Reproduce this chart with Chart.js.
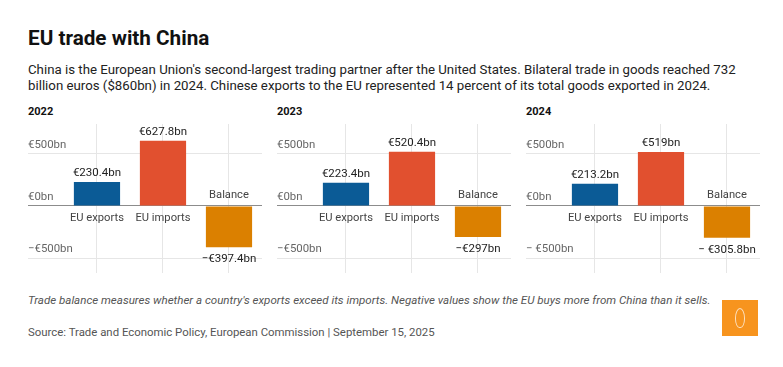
<!DOCTYPE html>
<html>
<head>
<meta charset="utf-8">
<script src="https://cdn.jsdelivr.net/npm/chart.js@4.4.1/dist/chart.umd.min.js"></script>
<style>
  html, body { margin: 0; padding: 0; background: #fff; }
  body { width: 783px; height: 367px; position: relative; overflow: hidden; font-family: Roboto, "Noto Sans", sans-serif; }
  #title { position: absolute; left: 28px; top: 24px; font-size: 20.7px; font-weight: 700; color: #111; line-height: 28px; }
  #subtitle { position: absolute; left: 28px; top: 61.5px; font-size: 13.25px; color: #222; line-height: 16.7px; }
  .year { position: absolute; top: 105px; font-size: 11px; font-weight: 700; color: #111; line-height: 14px; }
  .panel { position: absolute; top: 124px; }
  #note { position: absolute; left: 28px; top: 292px; font-size: 11.55px; font-style: italic; color: #555; line-height: 16px; }
  #source { position: absolute; left: 28px; top: 324px; font-size: 11.4px; color: #555; line-height: 16px; }
  #logo { position: absolute; left: 722px; top: 300px; width: 36px; height: 36px; background: #f7941e; }
  #logo span { position: absolute; left: 13px; top: 8px; width: 10px; height: 20px; border: 1px solid rgba(255,255,255,0.7); border-radius: 50% 50% 45% 45%; box-sizing: border-box; }
</style>
</head>
<body>
<div id="title">EU trade with China</div>
<div id="subtitle">China is the European Union's second-largest trading partner after the United States. Bilateral trade in goods reached 732<br>billion euros ($860bn) in 2024. Chinese exports to the EU represented 14 percent of its total goods exported in 2024.</div>
<div class="year" style="left:28px">2022</div>
<div class="year" style="left:277px">2023</div>
<div class="year" style="left:526px">2024</div>
<canvas class="panel" id="c0" width="234" height="149" style="left:28px"></canvas>
<canvas class="panel" id="c1" width="234" height="149" style="left:277px"></canvas>
<canvas class="panel" id="c2" width="234" height="149" style="left:526px"></canvas>
<div id="note">Trade balance measures whether a country's exports exceed its imports. Negative values show the EU buys more from China than it sells.</div>
<div id="source">Source: Trade and Economic Policy, European Commission | September 15, 2025</div>
<div id="logo"><span></span></div>
<script>
const categories = ['EU exports', 'EU imports', 'Balance'];
const years = ['2022', '2023', '2024'];
const values2022 = [230.4, 627.8, -397.4];
const values2023 = [223.4, 520.4, -297];
const values2024 = [213.2, 519, -305.8];
const valueLabels2022 = ['€230.4bn', '€627.8bn', '−€397.4bn'];
const valueLabels2023 = ['€223.4bn', '€520.4bn', '−€297bn'];
const valueLabels2024 = ['€213.2bn', '€519bn', '− €305.8bn'];
const tickValues = [-500, 0, 500];
const tickLabels2022 = ['−€500bn', '€0bn', '€500bn'];
const tickLabels2023 = ['−€500bn', '€0bn', '€500bn'];
const tickLabels2024 = ['− €500bn', '€0bn', '€500bn'];
const barColors = ['#0b5b96', '#e1502f', '#db8000'];

const panels = [
  { values: values2022, valueLabels: valueLabels2022, tickLabels: tickLabels2022 },
  { values: values2023, valueLabels: valueLabels2023, tickLabels: tickLabels2023 },
  { values: values2024, valueLabels: valueLabels2024, tickLabels: tickLabels2024 }
];

const FONT = 'Roboto, "Noto Sans", sans-serif';

const labelPlugin = {
  id: 'labels',
  afterDatasetsDraw(chart, args, opts) {
    const ctx = chart.ctx;
    const ys = chart.scales.y;
    const area = chart.chartArea;
    const zero = ys.getPixelForValue(0);
    ctx.save();
    ctx.font = '11.4px ' + FONT;
    ctx.fillStyle = '#666';
    ctx.textAlign = 'left';
    ctx.textBaseline = 'middle';
    tickValues.forEach((v, i) => {
      ctx.fillText(opts.tickLabels[i], area.left, ys.getPixelForValue(v) - 9);
    });
    const meta = chart.getDatasetMeta(0);
    meta.data.forEach((bar, i) => {
      const v = opts.values[i];
      ctx.textAlign = 'center';
      ctx.font = '11.5px ' + FONT;
      ctx.fillStyle = '#222';
      if (v >= 0) {
        ctx.fillText(opts.valueLabels[i], bar.x, bar.y - 9);
        ctx.font = '11.2px ' + FONT;
        ctx.fillStyle = '#444';
        ctx.fillText(categories[i], bar.x, zero + 12);
      } else {
        ctx.fillText(opts.valueLabels[i], bar.x, bar.y + 12);
        ctx.font = '11.2px ' + FONT;
        ctx.fillStyle = '#444';
        ctx.fillText(categories[i], bar.x, zero - 11);
      }
    });
    ctx.restore();
  }
};

panels.forEach((p, idx) => {
  new Chart(document.getElementById('c' + idx), {
    type: 'bar',
    data: {
      datasets: [{
        data: p.values.map((v, i) => ({ x: i, y: v })),
        backgroundColor: barColors,
        borderWidth: 0,
        categoryPercentage: 1,
        barPercentage: 0.7
      }]
    },
    options: {
      responsive: false,
      animation: false,
      devicePixelRatio: 1,
      layout: { padding: 0 },
      plugins: {
        legend: { display: false },
        tooltip: { enabled: false },
        labels: p
      },
      scales: {
        x: {
          type: 'linear',
          offset: false,
          min: -1.045,
          max: 2.5,
          afterBuildTicks: (s) => { s.ticks = [0, 1, 2].map(v => ({ value: v })); },
          ticks: { display: false },
          grid: { color: '#e6e6e6', drawTicks: false, lineWidth: 1, offset: false },
          border: { display: false }
        },
        y: {
          min: -644,
          max: 788,
          afterBuildTicks: (s) => { s.ticks = tickValues.map(v => ({ value: v })); },
          ticks: { display: false },
          grid: {
            color: (c) => (c.tick && c.tick.value === 0) ? '#8c8c8c' : '#e6e6e6',
            drawTicks: false,
            lineWidth: 1
          },
          border: { display: false }
        }
      }
    },
    plugins: [labelPlugin]
  });
});
</script>
</body>
</html>
